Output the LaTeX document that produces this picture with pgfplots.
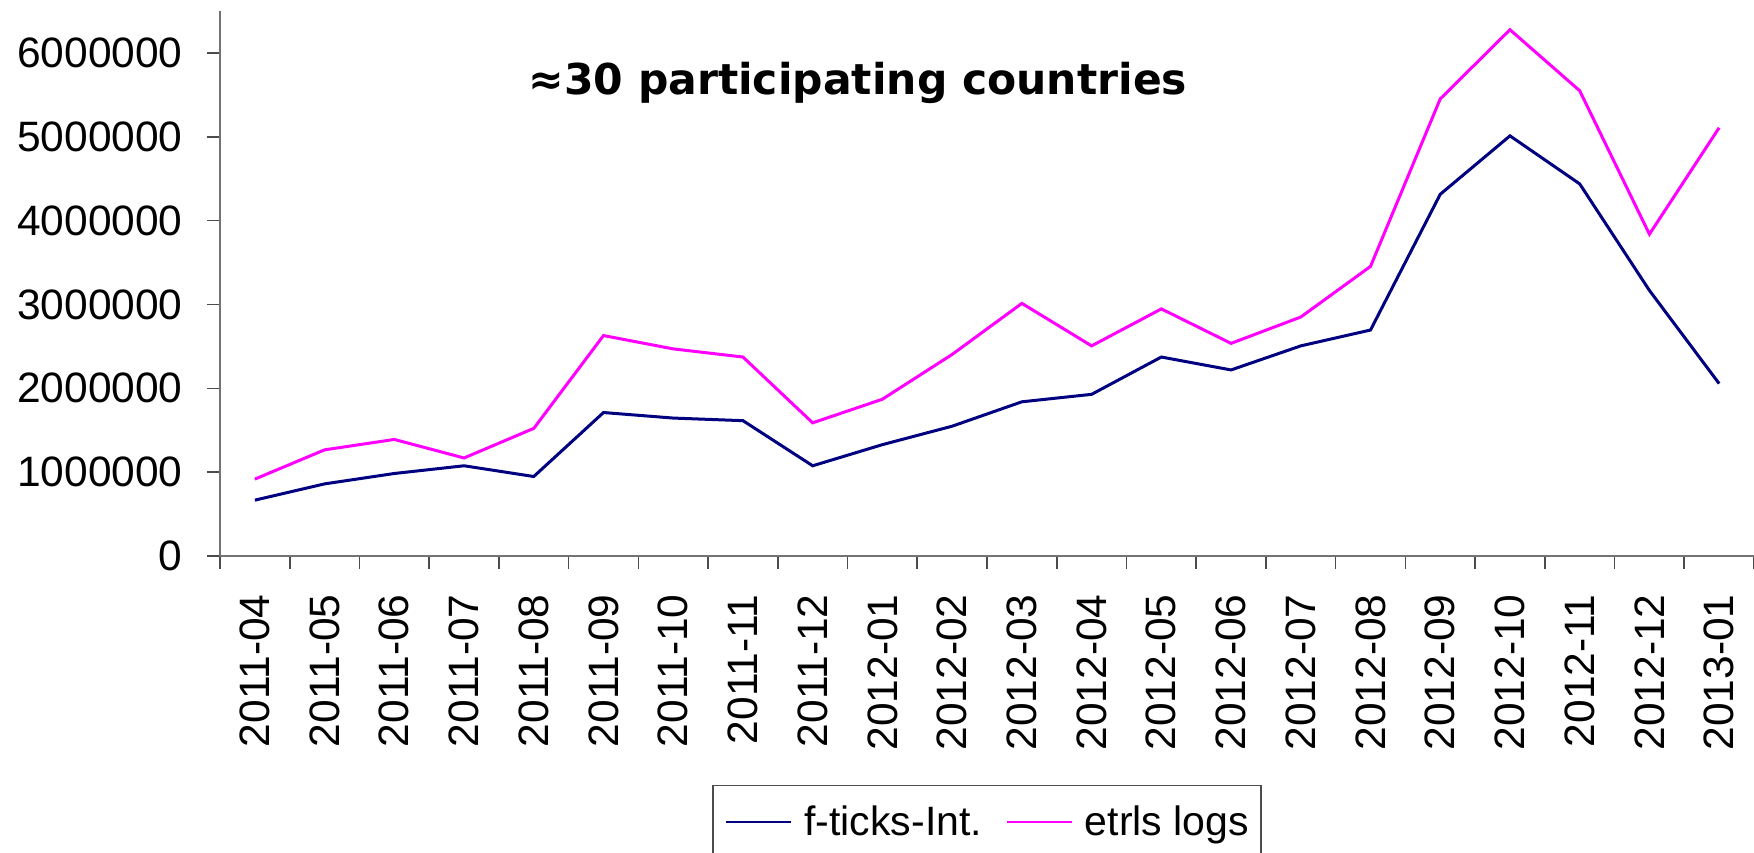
\documentclass[border=0pt]{standalone}
\usepackage{fontspec}
\setmainfont{Liberation Sans}
\newfontfamily\titlefont{DejaVu Sans}
\usepackage{pgfplots}
\pgfplotsset{compat=1.18}
\definecolor{ftblue}{RGB}{0,0,128}
\definecolor{etmag}{RGB}{255,0,255}

\begin{document}
\begin{tikzpicture}
\begin{axis}[
    name=ax,
    scale only axis,
    width=767pt,
    height=272.5pt,
    xmin=-0.5, xmax=21.5,
    ymin=0, ymax=6500000,
    axis lines*=left,
    axis line style={black!55, line width=0.8pt},
    tick style={black!70, line width=0.8pt},
    tick align=outside,
    major tick length=6.5pt,
    minor tick length=6.5pt,
    xtick={0,...,21},
    xticklabels={2011-04,2011-05,2011-06,2011-07,2011-08,2011-09,2011-10,2011-11,2011-12,2012-01,2012-02,2012-03,2012-04,2012-05,2012-06,2012-07,2012-08,2012-09,2012-10,2012-11,2012-12,2013-01},
    minor xtick={-0.5,0.5,...,21.5},
    major x tick style={draw=none},
    ytick={0,1000000,...,6000000},
    scaled y ticks=false,
    yticklabel style={/pgf/number format/fixed, /pgf/number format/1000 sep={}},
    /pgf/number format/assume math mode=true,
    tick label style={font=\fontsize{21.25}{25}\selectfont},
    xticklabel style={rotate=90, anchor=east, inner sep=0pt},
    yticklabel style={anchor=east, inner sep=0pt},
    xticklabel shift=12.5pt,
    yticklabel shift=12pt,
    legend style={
        at={(axis description cs:0.5,0)}, anchor=north, yshift=-114.5pt,
        draw=black!70, line width=0.6pt,
        legend columns=-1,
        inner xsep=6pt, inner ysep=10pt,
        font=\fontsize{20.5}{24}\selectfont,
        nodes={inner sep=0pt},
        /tikz/every odd column/.append style={column sep=5.75pt},
        /tikz/every even column/.append style={column sep=11.8pt}
    },
    legend image code/.code={\draw[#1, line width=1.4pt] (0pt,0pt) -- (32.5pt,0pt);},
]
% f-ticks-Int.
\addplot[ftblue, line width=1.5pt] coordinates {
    (0,666000) (1,860000) (2,984000) (3,1076000) (4,948000)
    (5,1711000) (6,1645000) (7,1614000) (8,1076000) (9,1328000)
    (10,1548000) (11,1839000) (12,1928000) (13,2373000) (14,2219000)
    (15,2506000) (16,2695000) (17,4314000) (18,5011000) (19,4438000)
    (20,3167000) (21,2056000)
};
% etrls logs
\addplot[etmag, line width=1.5pt] coordinates {
    (0,917000) (1,1266000) (2,1390000) (3,1169000) (4,1522000)
    (5,2629000) (6,2470000) (7,2373000) (8,1588000) (9,1870000)
    (10,2404000) (11,3013000) (12,2506000) (13,2947000) (14,2536000)
    (15,2850000) (16,3454000) (17,5452000) (18,6277000) (19,5549000)
    (20,3838000) (21,5108000)
};
\legend{f-ticks-Int., etrls logs}
\node[anchor=base west, inner sep=0pt, font={\titlefont\fontsize{21.25}{25}\selectfont\bfseries}]
    at (axis description cs:0.2008,0.8459) {≈30 participating countries};
\end{axis}
\pgfresetboundingbox
\path[use as bounding box] ([xshift=-110pt,yshift=-148.5pt]ax.south west) rectangle ([yshift=5.5pt]ax.north east);
\end{tikzpicture}
\end{document}
